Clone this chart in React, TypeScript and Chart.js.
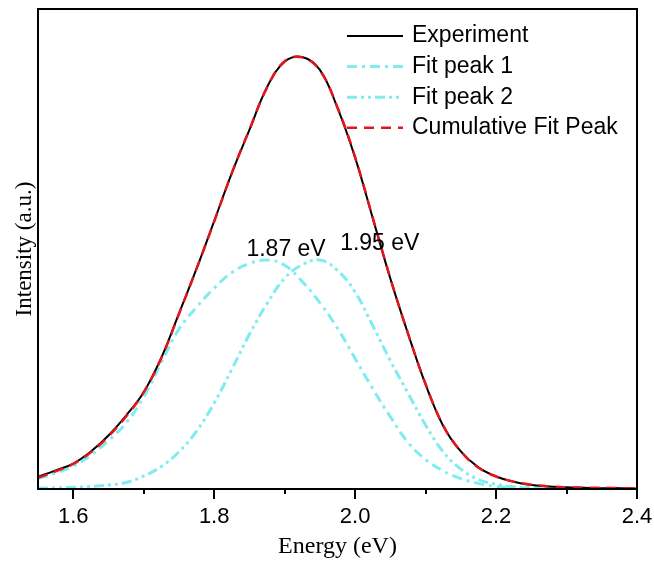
import React, { useEffect, useRef } from 'react';
import { Chart, registerables } from 'chart.js';

Chart.register(...registerables);

// ---- data ----
const energy = [
  1.55, 1.575, 1.6, 1.625, 1.65, 1.675, 1.7, 1.725, 1.75, 1.775, 1.8, 1.825,
  1.85, 1.875, 1.9, 1.925, 1.95, 1.975, 2.0, 2.025, 2.05, 2.075, 2.1, 2.125,
  2.15, 2.175, 2.2, 2.225, 2.25, 2.275, 2.3, 2.325, 2.35, 2.375, 2.4,
];

const experiment = [
  0.028, 0.043, 0.059, 0.087, 0.124, 0.17, 0.224, 0.304, 0.406, 0.51, 0.62, 0.731,
  0.831, 0.93, 0.989, 1.0, 0.97, 0.882, 0.767, 0.627, 0.487, 0.36, 0.242, 0.146,
  0.087, 0.05, 0.029, 0.017, 0.009, 0.006, 0.004, 0.003, 0.002, 0.002, 0.001,
];

const fitPeak1 = [
  0.024, 0.037, 0.053, 0.078, 0.112, 0.153, 0.213, 0.293, 0.37, 0.421, 0.465, 0.501,
  0.522, 0.53, 0.518, 0.48, 0.431, 0.372, 0.302, 0.232, 0.167, 0.108, 0.068, 0.042,
  0.024, 0.013, 0.006, 0.003, 0.002, 0.001, 0.001, 0.0, 0.0, 0.0, 0.0,
];

const fitPeak2 = [
  0.002, 0.003, 0.004, 0.006, 0.009, 0.015, 0.03, 0.052, 0.086, 0.134, 0.199, 0.277,
  0.358, 0.429, 0.488, 0.519, 0.53, 0.506, 0.456, 0.378, 0.297, 0.222, 0.148, 0.086,
  0.046, 0.022, 0.011, 0.005, 0.003, 0.002, 0.001, 0.001, 0.0, 0.0, 0.0,
];

const cumulativeFit = [
  0.026, 0.041, 0.058, 0.085, 0.122, 0.168, 0.224, 0.303, 0.405, 0.51, 0.619, 0.731,
  0.832, 0.929, 0.99, 0.999, 0.969, 0.883, 0.768, 0.628, 0.488, 0.36, 0.243, 0.147,
  0.087, 0.049, 0.029, 0.017, 0.01, 0.006, 0.004, 0.003, 0.003, 0.002, 0.002,
];

const seriesLabels = ['Experiment', 'Fit peak 1', 'Fit peak 2', 'Cumulative Fit Peak'];

const xTicks = [1.6, 1.7, 1.8, 1.9, 2.0, 2.1, 2.2, 2.3, 2.4];
const xTickLabels = ['1.6', '', '1.8', '', '2.0', '', '2.2', '', '2.4'];

const peakLabels = ['1.87 eV', '1.95 eV'];
const peakLabelX = [1.902, 2.035];
const peakLabelY = [0.555, 0.567];

const SANS = '"Liberation Sans", Arial, sans-serif';
const SERIF = '"Liberation Serif", "Times New Roman", serif';

const overlayPlugin = {
  id: 'overlay',
  afterDraw(chart: any) {
    const { ctx, chartArea: a, scales } = chart;
    const xs = scales.x;
    const ys = scales.y;
    ctx.save();
    ctx.strokeStyle = '#000';
    ctx.lineWidth = 2;
    ctx.setLineDash([]);
    // tick marks
    xs.ticks.forEach((t: any, i: number) => {
      const px = Math.round(xs.getPixelForValue(t.value));
      const major = xTickLabels[i] !== '';
      ctx.beginPath();
      ctx.moveTo(px, a.bottom);
      ctx.lineTo(px, a.bottom + (major ? 10 : 5));
      ctx.stroke();
    });
    // frame
    ctx.strokeRect(a.left, a.top, a.right - a.left, a.bottom - a.top);

    // peak annotations
    ctx.font = '23px ' + SANS;
    ctx.fillStyle = '#000';
    ctx.textAlign = 'center';
    ctx.textBaseline = 'middle';
    peakLabels.forEach((s, i) => {
      ctx.fillText(s, xs.getPixelForValue(peakLabelX[i]), ys.getPixelForValue(peakLabelY[i]));
    });

    // legend
    const lx0 = 347;
    const lx1 = 403;
    const tx = 412;
    const y0 = 36;
    const dy = 30.6;
    ctx.textAlign = 'left';
    chart.data.datasets.forEach((ds: any, i: number) => {
      const y = y0 + i * dy;
      ctx.save();
      ctx.strokeStyle = ds.borderColor;
      ctx.lineWidth = ds.borderWidth;
      ctx.setLineDash(ds.borderDash || []);
      ctx.beginPath();
      ctx.moveTo(lx0, y);
      ctx.lineTo(lx1, y);
      ctx.stroke();
      ctx.restore();
      ctx.fillStyle = '#000';
      ctx.fillText(ds.label, tx, y);
    });
    ctx.restore();
  },
};

export default function App() {
  const ref = useRef<HTMLCanvasElement | null>(null);

  useEffect(() => {
    if (!ref.current) return;
    const pts = (arr: number[]) => energy.map((e, i) => ({ x: e, y: arr[i] }));
    const cyan = '#7FECF0';
    const chart = new Chart(ref.current, {
      type: 'line',
      data: {
        datasets: [
          {
            label: seriesLabels[0],
            data: pts(experiment),
            borderColor: '#000000',
            borderWidth: 2,
            pointRadius: 0,
            tension: 0.4,
            order: 1,
          },
          {
            label: seriesLabels[1],
            data: pts(fitPeak1),
            borderColor: cyan,
            borderWidth: 3,
            borderDash: [10, 5, 3, 5],
            pointRadius: 0,
            tension: 0.4,
            order: 2,
          },
          {
            label: seriesLabels[2],
            data: pts(fitPeak2),
            borderColor: cyan,
            borderWidth: 3,
            borderDash: [10, 4, 3, 4, 3, 4],
            pointRadius: 0,
            tension: 0.4,
            order: 3,
          },
          {
            label: seriesLabels[3],
            data: pts(cumulativeFit),
            borderColor: '#E8141C',
            borderWidth: 2.5,
            borderDash: [10, 7],
            pointRadius: 0,
            tension: 0.4,
            order: 0,
          },
        ],
      } as any,
      options: {
        animation: false,
        responsive: true,
        maintainAspectRatio: false,
        layout: { padding: { top: 9, right: 17, left: 0, bottom: 0 } },
        plugins: {
          legend: { display: false },
          tooltip: { enabled: false },
        },
        scales: {
          x: {
            type: 'linear',
            min: 1.55,
            max: 2.4,
            grid: { display: false, drawTicks: false },
            border: { display: false },
            afterBuildTicks: (scale: any) => {
              scale.ticks = xTicks.map((v) => ({ value: v }));
            },
            afterFit: (scale: any) => {
              scale.height = 79;
              scale.paddingLeft = 0;
              scale.paddingRight = 0;
            },
            ticks: {
              autoSkip: false,
              maxRotation: 0,
              padding: 15,
              color: '#000',
              font: { family: SANS, size: 22 },
              callback: (_v: any, i: number) => xTickLabels[i] ?? '',
            },
            title: {
              display: true,
              text: 'Energy (eV)',
              color: '#000',
              font: { family: SERIF, size: 24 },
              padding: { top: 0, bottom: 7 },
            },
          },
          y: {
            type: 'linear',
            min: 0,
            max: 1.111,
            grid: { display: false, drawTicks: false },
            border: { display: false },
            ticks: { display: false },
            afterFit: (scale: any) => {
              scale.width = 38;
              scale.paddingTop = 0;
              scale.paddingBottom = 0;
            },
            title: {
              display: true,
              text: 'Intensity (a.u.)',
              color: '#000',
              font: { family: SERIF, size: 23 },
              padding: { top: 11, bottom: 0 },
            },
          },
        },
      } as any,
      plugins: [overlayPlugin],
    });
    return () => chart.destroy();
  }, []);

  return (
    <div style={{ position: 'fixed', left: 0, top: 0, width: 654, height: 568, background: '#fff' }}>
      <canvas ref={ref} />
    </div>
  );
}
